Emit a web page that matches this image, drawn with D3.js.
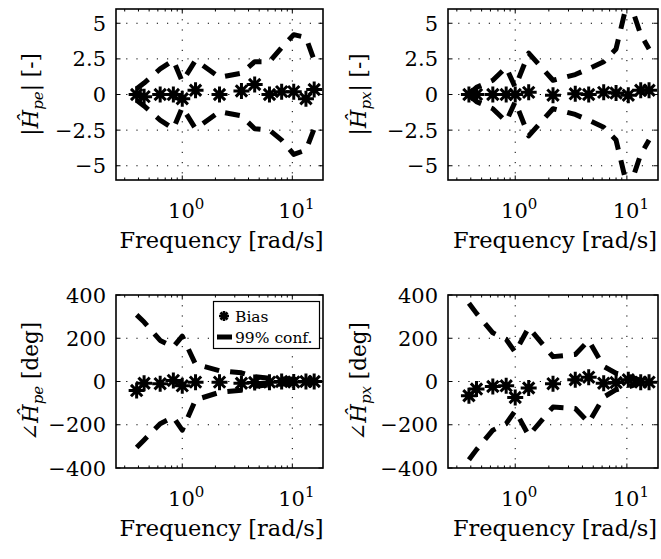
<!DOCTYPE html>
<html>
<head>
<meta charset="utf-8">
<script src="https://cdn.jsdelivr.net/npm/d3@7"></script>
<style>
  body { margin: 0; background: #fff; }
  text { font-family: "DejaVu Serif", "Liberation Serif", serif; fill: #000; }
</style>
</head>
<body>
<script>
// frequencies shared by all four panels [rad/s]
const freq = [0.385, 0.45, 0.63, 0.83, 1.0, 1.32, 2.18, 3.45, 4.55, 6.2, 8.0, 10.3, 13.3, 15.8];

// magnitude, H_pe
const peBiasMag  = [0, -0.15, 0, 0, -0.3, 0.3, 0, 0.25, 0.7, 0, 0.2, 0.2, -0.3, 0.35];
const peUpperMag = [0.4, 0.8, 1.8, 2.4, 0.9, 2.4, 1.2, 1.5, 2.3, 2.3, 3.3, 4.2, 4.0, 2.4];
const peLowerMag = [-0.4, -0.8, -1.8, -2.4, -0.9, -2.4, -1.2, -1.5, -2.4, -2.5, -3.2, -4.2, -3.9, -2.4];

// magnitude, H_px
const pxBiasMag  = [0, 0, 0, 0, 0, 0.15, -0.05, 0.05, 0, 0.15, 0.1, -0.05, 0.3, 0.3];
const pxUpperMag = [0.05, 0.5, 1.0, 1.9, 0.5, 2.9, 1.0, 1.4, 1.8, 2.3, 3.2, 6.8, 4.2, 3.2];
const pxLowerMag = [-0.05, -0.5, -1.0, -1.9, -0.5, -2.9, -1.0, -1.4, -1.8, -2.3, -3.2, -6.8, -4.2, -3.2];

// phase, H_pe [deg]
const peBiasPh  = [-42, -8, -10, 5, -20, -3, -3, -8, -5, -3, 0, -2, 0, 0];
const peUpperPh = [308, 275, 190, 160, 210, 80, 50, 40, 22, 15, 12, 10, 8, 6];
const peLowerPh = [-305, -270, -195, -165, -225, -85, -50, -40, -22, -15, -12, -10, -8, -6];

// phase, H_px [deg]
const pxBiasPh  = [-66, -35, -23, -20, -74, -30, -10, 8, 20, -8, -5, 8, -3, -3];
const pxUpperPh = [362, 315, 225, 195, 135, 250, 115, 125, 190, 70, 38, 25, 5, 3];
const pxLowerPh = [-362, -315, -225, -195, -135, -250, -118, -125, -190, -72, -38, -25, -5, -3];

const magTicks = [-5, -2.5, 0, 2.5, 5];
const magTickLabels = ['\u22125', '\u22122.5', '0', '2.5', '5'];
const phTicks = [-400, -200, 0, 200, 400];
const phTickLabels = ['\u2212400', '\u2212200', '0', '200', '400'];
const xTicks = [1, 10];
const xTickExp = ['0', '1'];
const legendLabels = ['Bias', '99% conf.'];

const W = 661, H = 559;
const svg = d3.select('body').append('svg').attr('width', W).attr('height', H);

const panels = [
  { id: 'a', x0: 116, x1: 323, y0: 9, y1: 180, dom: [-6, 6], ticks: magTicks, labels: magTickLabels,
    bias: peBiasMag, up: peUpperMag, lo: peLowerMag, kind: 'mag', sub: 'pe', ylx: 30 },
  { id: 'b', x0: 448, x1: 658, y0: 9, y1: 180, dom: [-6, 6], ticks: magTicks, labels: magTickLabels,
    bias: pxBiasMag, up: pxUpperMag, lo: pxLowerMag, kind: 'mag', sub: 'px', ylx: 358 },
  { id: 'c', x0: 116, x1: 323, y0: 295, y1: 468, dom: [-400, 400], ticks: phTicks, labels: phTickLabels,
    bias: peBiasPh, up: peUpperPh, lo: peLowerPh, kind: 'ph', sub: 'pe', ylx: 30, legend: true },
  { id: 'd', x0: 448, x1: 658, y0: 295, y1: 468, dom: [-400, 400], ticks: phTicks, labels: phTickLabels,
    bias: pxBiasPh, up: pxUpperPh, lo: pxLowerPh, kind: 'ph', sub: 'px', ylx: 358 }
];

const defs = svg.append('defs');

function starPath(r) {
  const d = r * Math.SQRT1_2;
  return `M${-r},0L${r},0M0,${-r}L0,${r}M${-d},${-d}L${d},${d}M${-d},${d}L${d},${-d}`;
}

panels.forEach(p => drawPanel(p));

function drawPanel(p) {
  const x = d3.scaleLog().domain([0.25, 19]).range([p.x0, p.x1]);
  const y = d3.scaleLinear().domain(p.dom).range([p.y1, p.y0]);
  const g = svg.append('g');

  defs.append('clipPath').attr('id', 'clip-' + p.id)
    .append('rect').attr('x', p.x0).attr('y', p.y0)
    .attr('width', p.x1 - p.x0).attr('height', p.y1 - p.y0);

  // dotted grid
  const grid = g.append('g').attr('stroke', '#000').attr('stroke-width', 1)
    .attr('stroke-dasharray', '1.2,9');
  grid.selectAll('.hg').data(p.ticks.filter(t => y(t) > p.y0 + 1 && y(t) < p.y1 - 1))
    .enter().append('line')
    .attr('x1', p.x0).attr('x2', p.x1)
    .attr('y1', d => y(d)).attr('y2', d => y(d));
  grid.selectAll('.vg').data(xTicks).enter().append('line')
    .attr('x1', d => x(d)).attr('x2', d => x(d))
    .attr('y1', p.y0).attr('y2', p.y1);

  // inner ticks
  const minor = d3.range(3, 10).map(k => k / 10).concat(d3.range(2, 10))
    .filter(v => v > 0.25 && v < 19);
  const tk = g.append('g').attr('stroke', '#000').attr('stroke-width', 1);
  [p.y0, p.y1].forEach((yy, i) => {
    const s = i === 0 ? 1 : -1;
    tk.selectAll(null).data(minor).enter().append('line')
      .attr('x1', d => x(d)).attr('x2', d => x(d))
      .attr('y1', yy).attr('y2', yy + s * 2.5);
    tk.selectAll(null).data(xTicks).enter().append('line')
      .attr('x1', d => x(d)).attr('x2', d => x(d))
      .attr('y1', yy).attr('y2', yy + s * 4.5);
  });
  [p.x0, p.x1].forEach((xx, i) => {
    const s = i === 0 ? 1 : -1;
    tk.selectAll(null).data(p.ticks).enter().append('line')
      .attr('x1', xx).attr('x2', xx + s * 4.5)
      .attr('y1', d => y(d)).attr('y2', d => y(d));
  });

  // confidence bounds
  const line = d3.line().x((d, i) => x(freq[i])).y(d => y(d));
  const data = g.append('g').attr('clip-path', `url(#clip-${p.id})`);
  [p.up, p.lo].forEach(arr => {
    data.append('path').attr('d', line(arr))
      .attr('fill', 'none').attr('stroke', '#000')
      .attr('stroke-width', 5).attr('stroke-dasharray', '15,11')
      .attr('stroke-linejoin', 'round');
  });

  // bias stars
  data.selectAll('.star').data(p.bias).enter().append('path')
    .attr('d', starPath(8))
    .attr('transform', (d, i) => `translate(${x(freq[i])},${y(d)})`)
    .attr('fill', 'none').attr('stroke', '#000').attr('stroke-width', 3);

  // box
  g.append('rect').attr('x', p.x0).attr('y', p.y0)
    .attr('width', p.x1 - p.x0).attr('height', p.y1 - p.y0)
    .attr('fill', 'none').attr('stroke', '#000').attr('stroke-width', 1.6);

  // y tick labels
  g.selectAll('.yl').data(p.ticks).enter().append('text')
    .attr('x', p.x0 - 10).attr('y', d => y(d))
    .attr('dy', '0.36em').attr('text-anchor', 'end')
    .attr('font-size', 21)
    .text((d, i) => p.labels[i]);

  // x tick labels
  const xl = g.selectAll('.xl').data(xTicks).enter().append('text')
    .attr('x', d => x(d) + 4).attr('y', p.y1 + 38)
    .attr('text-anchor', 'middle').attr('font-size', 21);
  xl.append('tspan').text('10');
  xl.append('tspan').attr('dy', -9).attr('font-size', 15).text((d, i) => xTickExp[i]);

  // x label
  g.append('text').attr('x', (p.x0 + p.x1) / 2 + 2).attr('y', p.y1 + 68)
    .attr('text-anchor', 'middle').attr('font-size', 22.5)
    .text('Frequency [rad/s]');

  // y label
  const cy = (p.y0 + p.y1) / 2;
  const yl = g.append('text')
    .attr('transform', `translate(${p.ylx},${cy}) rotate(-90)`)
    .attr('text-anchor', 'middle').attr('dy', '0.35em').attr('font-size', 21.5);
  yl.append('tspan').text(p.kind === 'mag' ? '|' : '\u2220');
  yl.append('tspan').attr('font-style', 'italic').text('\u0124');
  yl.append('tspan').attr('font-style', 'italic').attr('font-size', 15).attr('dy', 5).text(p.sub);
  yl.append('tspan').attr('dy', -5).text(p.kind === 'mag' ? '| [-]' : ' [deg]');

  if (p.legend) drawLegend();
}

function drawLegend() {
  const lg = svg.append('g');
  lg.append('rect').attr('x', 213.5).attr('y', 301.5).attr('width', 106).attr('height', 47)
    .attr('fill', '#fff').attr('stroke', '#000').attr('stroke-width', 1.2);
  lg.append('path').attr('d', starPath(5))
    .attr('transform', 'translate(224,316)')
    .attr('fill', 'none').attr('stroke', '#000').attr('stroke-width', 2.6);
  lg.append('line').attr('x1', 217).attr('x2', 232).attr('y1', 337).attr('y2', 337)
    .attr('stroke', '#000').attr('stroke-width', 5);
  lg.selectAll('.lt').data(legendLabels).enter().append('text')
    .attr('x', 235).attr('y', (d, i) => 322 + i * 21)
    .attr('font-size', 15.5).text(d => d);
}
</script>
</body>
</html>
